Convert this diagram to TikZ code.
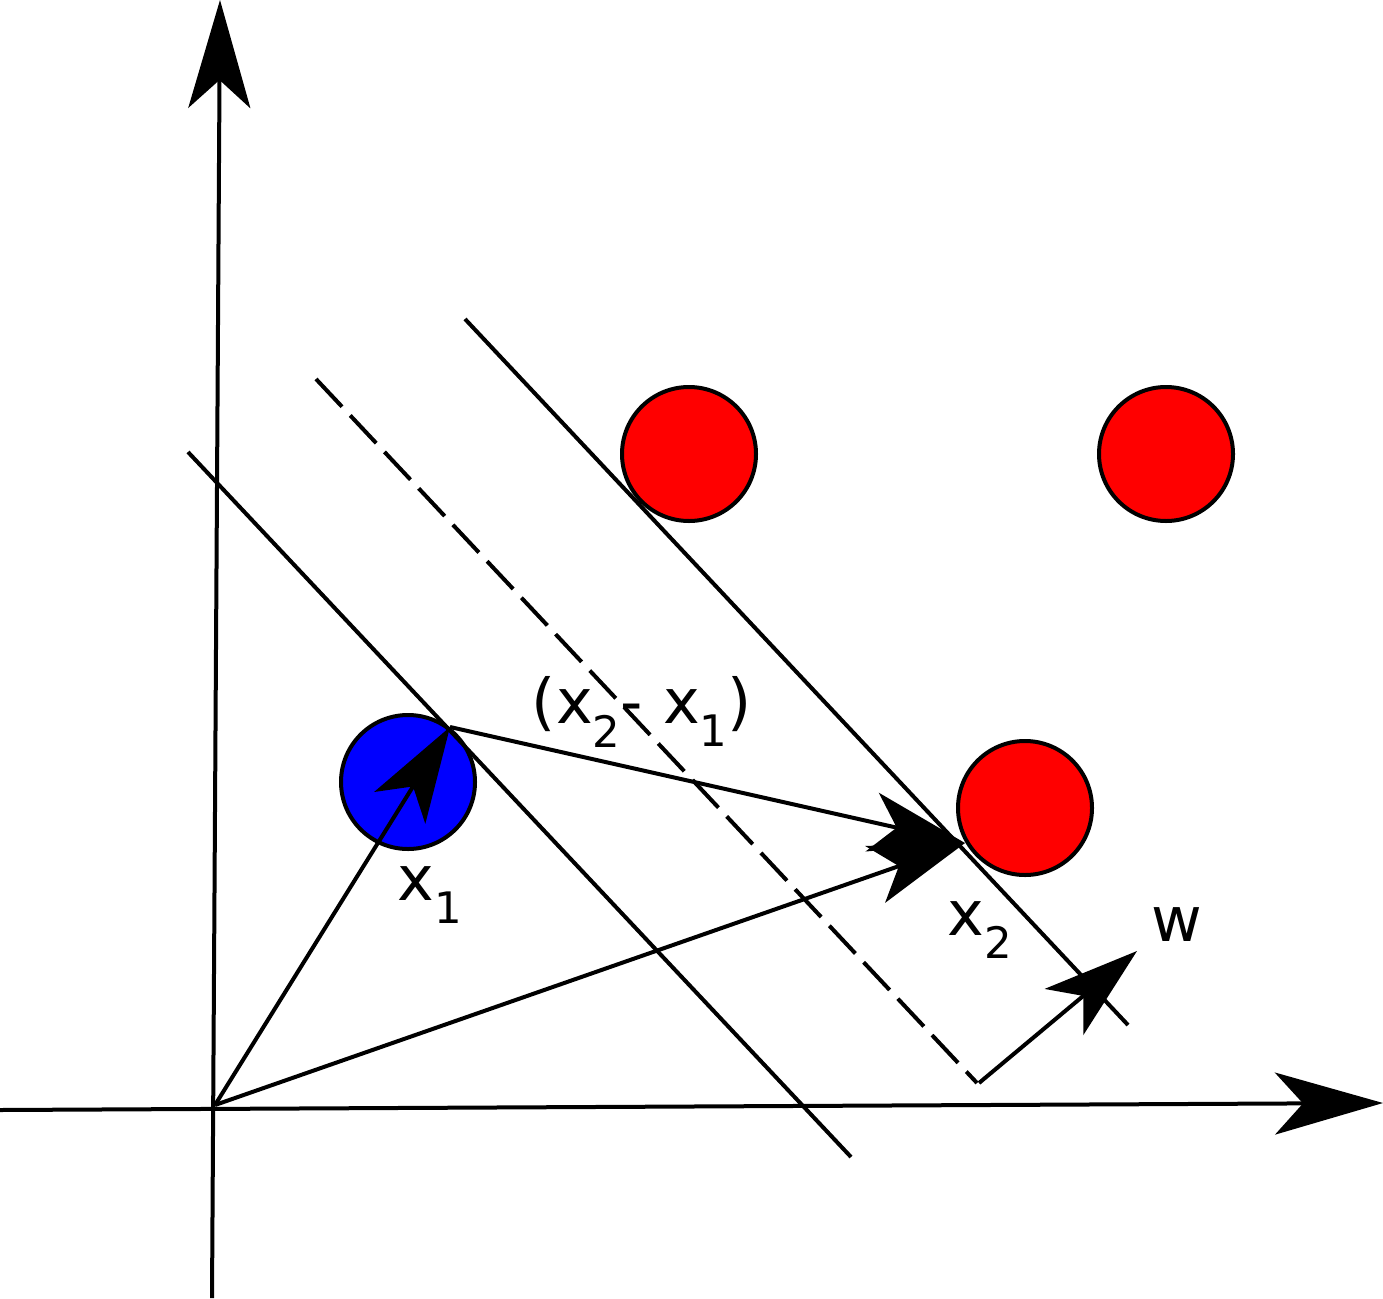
\documentclass[tikz,border=0pt]{standalone}
\usepackage{fontspec}
\setmainfont{DejaVu Sans}
\usetikzlibrary{arrows.meta}
\begin{document}
\begin{tikzpicture}[x=1pt,y=-1pt,
  ln/.style={line width=4pt,black},
  bigtip/.style={-{Stealth[length=108pt,width=62pt,inset=28pt]}},
  vtip/.style={-{Stealth[length=95pt,width=60pt,inset=25pt]}},
  pt/.style={circle,draw=black,line width=4pt,minimum size=134pt,inner sep=0pt},
  lab/.style={font=\fontsize{62}{62}\selectfont,inner sep=0pt}]
\useasboundingbox (0,0) rectangle (1383,1298);
\coordinate (ybot) at (212,1298); \coordinate (ytop) at (220,0);
\coordinate (xl) at (0,1110); \coordinate (xr) at (1383,1103);
\coordinate (o) at (215,1105);
\draw[ln,bigtip] (ybot) -- (ytop);
\draw[ln,bigtip] (xl) -- (xr);
\coordinate (a1) at (188,452); \coordinate (a2) at (851,1157);
\coordinate (d1) at (316,379); \coordinate (d2) at (977,1083);
\coordinate (b1) at (465,319); \coordinate (b2) at (1128,1025);
\node[pt,fill=red] (r1) at (689,454) {};
\node[pt,fill=red] (r2) at (1166,454) {};
\node[pt,fill=red] (r3) at (1025,808) {};
\node[pt,fill=blue] (bl) at (408,782) {};
\draw[ln] (a1) -- (a2);
\draw[ln,dash pattern=on 38pt off 12pt] (d1) -- (d2);
\draw[ln] (b1) -- (b2);
\coordinate (x1) at (450,727); \coordinate (x2) at (965,843);
\coordinate (wt) at (1137,951); \coordinate (wb) at (979,1083);
\draw[ln,vtip] (o) -- (x1);
\draw[ln,vtip] (o) -- (x2);
\draw[ln,vtip] (x1) -- (x2);
\draw[ln,vtip] (wb) -- (wt);
\node[lab] (l1) at (430,895) {x$_{\mathrm{1}}$};
\node[lab] (l2) at (980,930) {x$_{\mathrm{2}}$};
\node[lab] (lw) at (1177,925) {w};
\node[lab] (ld) at (642,712) {(x$_{\mathrm{2}}$- x$_{\mathrm{1}}$)};
\end{tikzpicture}
\end{document}
